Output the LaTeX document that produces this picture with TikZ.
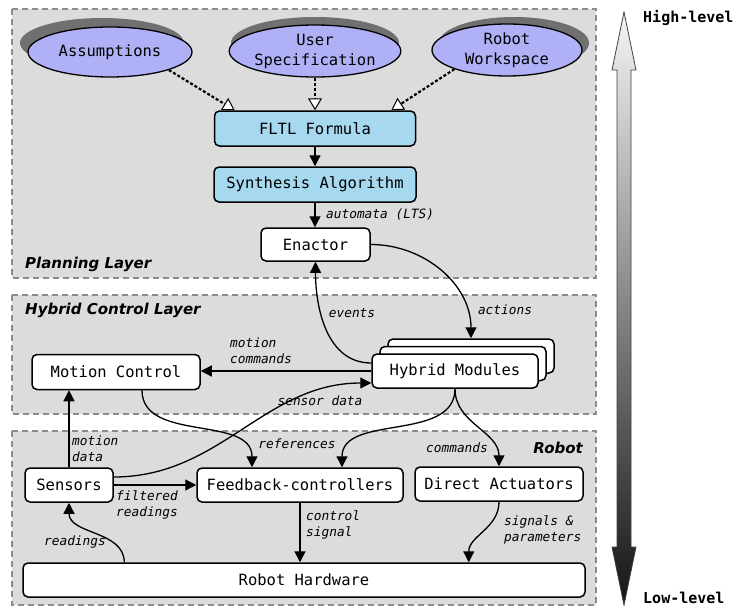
\documentclass[tikz,border=0pt]{standalone}
\usepackage{fontspec}
\setmonofont{DejaVu Sans Mono}
\setsansfont{DejaVu Sans}
\usetikzlibrary{arrows.meta,shapes.geometric,calc}
\definecolor{layerfill}{HTML}{DCDCDC}
\definecolor{layerdraw}{HTML}{8C8C8C}
\definecolor{ellfill}{HTML}{B0B0F7}
\definecolor{boxblue}{HTML}{A6D8F0}
\definecolor{shadowgray}{HTML}{707070}
\begin{document}
\begin{tikzpicture}[x=1pt,y=-1pt,
  layer/.style={fill=layerfill, draw=layerdraw, line width=2pt, dash pattern=on 6pt off 4pt},
  boxnode/.style={draw=black, line width=1.5pt, rounded corners=5pt, fill=white,
    font=\ttfamily\fontsize{15.5}{19}\selectfont, inner sep=0pt, align=center},
  bluebox/.style={boxnode, fill=boxblue},
  ellnode/.style={ellipse, draw=black, line width=1.3pt, fill=ellfill, inner sep=0pt,
    font=\ttfamily\fontsize{15.5}{20}\selectfont, align=center},
  conn/.style={line width=1.3pt, -{Triangle[length=11pt,width=11pt]}},
  spec/.style={line width=2.2pt, dash pattern=on 3pt off 2pt,
    -{Triangle[length=12pt,width=14pt,fill=white,line width=1pt 0]}},
  lbl/.style={font=\ttfamily\itshape\fontsize{12.8}{16}\selectfont, inner sep=0pt, align=left},
  layerlbl/.style={font=\sffamily\bfseries\itshape\fontsize{15}{18}\selectfont, inner sep=0pt},
  levellbl/.style={font=\ttfamily\bfseries\fontsize{15}{18}\selectfont, inner sep=0pt, anchor=west}
]
\useasboundingbox (0,0) rectangle (737,608);

% layers
\draw[layer] (12,9) rectangle (596,278);
\draw[layer] (12,295) rectangle (596,414);
\draw[layer] (12,431) rectangle (596,605);

\node[layerlbl, anchor=west] (planlbl) at (25,264) {Planning Layer};
\node[layerlbl, anchor=west] (hyblbl) at (25,310) {Hybrid Control Layer};
\node[layerlbl, anchor=east] (roblbl) at (583,448) {Robot};

% ellipses with shadows
\coordinate (cA) at (110,52);
\coordinate (cU) at (315,51);
\coordinate (cW) at (507,50);
\fill[shadowgray] ($(cA)+(-8,-9)$) ellipse [x radius=82pt, y radius=25pt];
\fill[shadowgray] ($(cU)+(0,-8)$) ellipse [x radius=84pt, y radius=26pt];
\fill[shadowgray] ($(cW)+(7,-7)$) ellipse [x radius=75pt, y radius=26pt];
\node[ellnode, minimum width=164pt, minimum height=50pt] (assump) at (cA) {Assumptions};
\node[ellnode, minimum width=168pt, minimum height=52pt] (userspec) at (cU) {User\\Specification};
\node[ellnode, minimum width=150pt, minimum height=52pt] (workspace) at (cW) {Robot\\Workspace};

% planning boxes
\node[bluebox, minimum width=201pt, minimum height=35pt] (fltl) at (315,128.5) {FLTL Formula};
\node[bluebox, minimum width=202pt, minimum height=35pt] (synth) at (315,184.5) {Synthesis Algorithm};
\node[boxnode, minimum width=109pt, minimum height=33pt] (enactor) at (315.5,244.5) {Enactor};

% hybrid layer
\node[boxnode, minimum width=166pt, minimum height=34pt] (hm3) at (471,356) {};
\node[boxnode, minimum width=166pt, minimum height=34pt] (hm2) at (463,363.5) {};
\node[boxnode, minimum width=166pt, minimum height=34pt] (hm) at (455,371) {Hybrid Modules};
\node[boxnode, minimum width=168pt, minimum height=35pt] (mc) at (116,372) {Motion Control};

% robot layer
\node[boxnode, minimum width=88pt, minimum height=34pt] (sensors) at (69,485) {Sensors};
\node[boxnode, minimum width=206pt, minimum height=34pt] (fb) at (300,485) {Feedback-controllers};
\node[boxnode, minimum width=168pt, minimum height=34pt] (da) at (499,484) {Direct Actuators};
\node[boxnode, minimum width=562pt, minimum height=34pt] (hw) at (304,580) {Robot Hardware};

% specification arrows
\draw[spec] (assump.-17) -- ($(fltl.north west)+(21,0)$);
\draw[spec] (userspec.south) -- (userspec.south |- fltl.north);
\draw[spec] (workspace.200) -- ($(fltl.north east)+(-25,0)$);

% planning connectors
\draw[conn] (fltl.south) -- (synth.north);
\draw[conn] (synth.south) -- (synth.south |- enactor.north);
\node[lbl, anchor=west] (lautomata) at (326,214) {automata (LTS)};
\draw[conn] (enactor.east) to[out=0, in=90] (hm3.north);
\node[lbl] (lactions) at (505,310) {actions};
\draw[conn] ($(hm.west)+(0,-8)$) to[out=180, in=-90] (enactor.south);
\node[lbl] (levents) at (352,313) {events};

% hybrid connectors
\draw[conn] (hm.west) -- (hm.west -| mc.east);
\node[lbl, anchor=west] (lmotcmd) at (230,351) {motion\\commands};
\draw[conn] ($(sensors.east)+(0,-8)$) to[out=0, in=180] ($(hm.west)+(0,12)$);
\node[lbl] (lsensdata) at (320,401) {sensor data};
\draw[conn] ($(mc.south)+(26,0)$) to[out=-90, in=90] ($(fb.north)+(-48,0)$);
\node[lbl] (lrefs) at (297,444) {references};
\draw[conn] (hm.south) to[out=-90, in=90] ($(fb.north)+(42,0)$);
\draw[conn] (hm.south) to[out=-90, in=90] (da.north);
\node[lbl] (lcmds) at (457,448) {commands};

% robot connectors
\draw[conn] (sensors.north) -- (sensors.north |- mc.south);
\node[lbl, anchor=west] (lmotdata) at (72,449) {motion\\data};
\draw[conn] (sensors.east) -- (fb.west);
\node[lbl, anchor=west] (lfilt) at (116,505) {filtered\\readings};
\draw[conn] (fb.south) -- (fb.south |- hw.north);
\node[lbl, anchor=west] (lctrl) at (306,525) {control\\signal};
\draw[conn] ($(hw.north west)+(102,0)$) to[out=90, in=-90] (sensors.south);
\node[lbl] (lread) at (75,542) {readings};
\draw[conn] (da.south) to[out=-90, in=90] ($(hw.north east)+(-117,0)$);
\node[lbl, anchor=west] (lsig) at (504,530) {signals \&\\parameters};

% level arrow
\shade[top color=white!96!black, bottom color=black!92, draw=black!75, line width=0.8pt]
  (624,12) -- (636,70) -- (631,70) -- (631,547) -- (636,547) -- (624,605)
  -- (612,547) -- (617,547) -- (617,70) -- (612,70) -- cycle;
\node[levellbl] (high) at (643,18) {High-level};
\node[levellbl] (low) at (643,598) {Low-level};
\end{tikzpicture}
\end{document}
